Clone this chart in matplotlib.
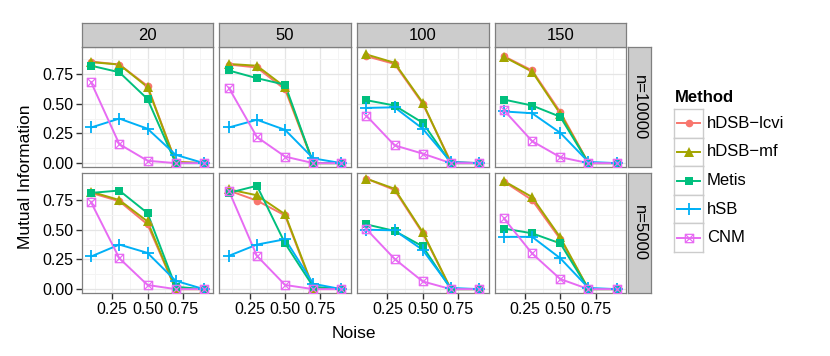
import matplotlib
matplotlib.use("Agg")
import matplotlib.pyplot as plt
from matplotlib.path import Path
import numpy as np

plt.rcParams['font.family'] = ['Liberation Sans', 'DejaVu Sans']

noise = [0.1, 0.3, 0.5, 0.7, 0.9]
ks = ['20', '50', '100', '150']
rows = ['n=10000', 'n=5000']
methods = ['hDSB\u2212lcvi', 'hDSB\u2212mf', 'Metis', 'hSB', 'CNM']

# one list per panel (k = 20, 50, 100, 150), values at each noise level
hdsb_lcvi_10000 = [[0.855, 0.83, 0.65, 0.01, 0.0], [0.83, 0.805, 0.62, 0.0, 0.0],
                   [0.90, 0.835, 0.50, 0.01, 0.0], [0.90, 0.78, 0.43, 0.0, 0.0]]
hdsb_mf_10000 = [[0.85, 0.83, 0.64, 0.01, 0.0], [0.835, 0.82, 0.64, 0.0, 0.0],
                 [0.915, 0.845, 0.51, 0.0, 0.0], [0.895, 0.77, 0.415, 0.0, 0.0]]
metis_10000 = [[0.82, 0.765, 0.54, 0.0, 0.0], [0.78, 0.715, 0.66, 0.0, 0.0],
               [0.53, 0.485, 0.34, 0.0, 0.0], [0.535, 0.485, 0.39, 0.0, 0.0]]
hsb_10000 = [[0.30, 0.375, 0.29, 0.07, 0.0], [0.30, 0.365, 0.28, 0.04, 0.0],
             [0.465, 0.47, 0.29, 0.01, 0.0], [0.435, 0.42, 0.255, 0.01, 0.0]]
cnm_10000 = [[0.68, 0.16, 0.02, 0.0, 0.0], [0.635, 0.22, 0.055, 0.0, 0.0],
             [0.40, 0.15, 0.08, 0.0, 0.0], [0.445, 0.185, 0.05, 0.0, 0.0]]

hdsb_lcvi_5000 = [[0.81, 0.74, 0.545, 0.0, 0.0], [0.83, 0.745, 0.62, 0.0, 0.0],
                  [0.93, 0.835, 0.47, 0.0, 0.0], [0.905, 0.75, 0.42, 0.0, 0.0]]
hdsb_mf_5000 = [[0.82, 0.75, 0.57, 0.0, 0.0], [0.84, 0.79, 0.63, 0.01, 0.0],
                [0.93, 0.845, 0.48, 0.0, 0.0], [0.91, 0.775, 0.435, 0.0, 0.0]]
metis_5000 = [[0.81, 0.83, 0.64, 0.02, 0.0], [0.81, 0.87, 0.385, 0.02, 0.0],
              [0.545, 0.49, 0.36, 0.0, 0.0], [0.51, 0.47, 0.385, 0.0, 0.0]]
hsb_5000 = [[0.275, 0.375, 0.305, 0.07, 0.0], [0.28, 0.375, 0.42, 0.045, 0.0],
            [0.50, 0.495, 0.33, 0.01, 0.0], [0.44, 0.44, 0.26, 0.01, 0.0]]
cnm_5000 = [[0.73, 0.26, 0.035, 0.0, 0.0], [0.83, 0.28, 0.035, 0.0, 0.0],
            [0.505, 0.255, 0.065, 0.0, 0.0], [0.595, 0.30, 0.085, 0.0, 0.0]]

data = {
    'n=10000': [hdsb_lcvi_10000, hdsb_mf_10000, metis_10000, hsb_10000, cnm_10000],
    'n=5000': [hdsb_lcvi_5000, hdsb_mf_5000, metis_5000, hsb_5000, cnm_5000],
}

colors = ['#F8766D', '#A3A500', '#00BF7D', '#00B0F6', '#E76BF3']

# square with a cross inside (ggplot shape 7)
sq_x = Path([(-1, -1), (1, -1), (1, 1), (-1, 1), (-1, -1), (-1, -1), (1, 1), (-1, 1), (1, -1)],
            [Path.MOVETO, Path.LINETO, Path.LINETO, Path.LINETO, Path.CLOSEPOLY,
             Path.MOVETO, Path.LINETO, Path.MOVETO, Path.LINETO])
mstyle = [dict(marker='o', ms=5.5, mew=0),
          dict(marker='^', ms=6.5, mew=0),
          dict(marker='s', ms=5.5, mew=0),
          dict(marker='+', ms=9, mew=1.3),
          dict(marker=sq_x, ms=6, mew=0.9, mfc='none')]

W, H = 830, 356
fig = plt.figure(figsize=(W / 100, H / 100), dpi=100)


def box(x0, y0, x1, y1):
    return [x0 / W, 1 - y1 / H, (x1 - x0) / W, (y1 - y0) / H]


col_x = [81.7 + 137.6 * i for i in range(4)]
pw = 131.6
row_y = [(47.3, 167.3), (173.3, 293.3)]
xlim = (0.033, 0.967)
ylim = (-0.035, 0.975)

for r, rname in enumerate(rows):
    for c, k in enumerate(ks):
        x0 = col_x[c]
        ax = fig.add_axes(box(x0, row_y[r][0], x0 + pw, row_y[r][1]))
        ax.set_xlim(*xlim)
        ax.set_ylim(*ylim)
        ax.set_xticks([0.25, 0.5, 0.75])
        ax.set_xticks([0.125, 0.375, 0.625, 0.875], minor=True)
        ax.set_yticks([0, 0.25, 0.5, 0.75])
        ax.set_yticks([0.125, 0.375, 0.625, 0.875], minor=True)
        ax.grid(which='major', color='#E5E5E5', lw=0.9)
        ax.grid(which='minor', color='#F4F4F4', lw=0.7)
        ax.set_axisbelow(True)
        for s in ax.spines.values():
            s.set_color('#7F7F7F')
            s.set_linewidth(0.9)
        ax.tick_params(which='minor', length=0)
        ax.tick_params(which='major', length=4, width=1.0, color='#333333',
                       labelsize=11.5, pad=2, labelcolor='black')
        if c > 0:
            ax.tick_params(axis='y', left=False, labelleft=False)
        else:
            ax.set_yticklabels(['0.00', '0.25', '0.50', '0.75'])
        if r == 0:
            ax.tick_params(axis='x', bottom=False, labelbottom=False)
        else:
            ax.set_xticklabels(['0.25', '0.50', '0.75'])

        series = data[rname]
        for m in range(len(methods)):
            ax.plot(noise, series[m][c], color=colors[m], lw=1.4, zorder=2)
        for m in range(len(methods)):
            st = dict(mstyle[m])
            ax.plot(noise, series[m][c], ls='none', color=colors[m],
                    mec=colors[m], zorder=3, **st)

        # top strips
        if r == 0:
            sa = fig.add_axes(box(x0, 23.3, x0 + pw, 47.3))
            sa.set_facecolor('#CCCCCC')
            sa.set_xticks([])
            sa.set_yticks([])
            for s in sa.spines.values():
                s.set_color('#7F7F7F')
                s.set_linewidth(0.9)
            sa.text(0.5, 0.5, k, ha='center', va='center', fontsize=12,
                    transform=sa.transAxes)

    # right strips
    sa = fig.add_axes(box(627.5, row_y[r][0], 650.5, row_y[r][1]))
    sa.set_facecolor('#CCCCCC')
    sa.set_xticks([])
    sa.set_yticks([])
    for s in sa.spines.values():
        s.set_color('#7F7F7F')
        s.set_linewidth(0.9)
    sa.text(0.5, 0.5, rname, ha='center', va='center', fontsize=12,
            rotation=-90, transform=sa.transAxes)

fig.text(25 / W, 1 - 177 / H, 'Mutual Information', rotation=90, ha='center',
         va='center', fontsize=12.5)
fig.text(354 / W, 1 - 333 / H, 'Noise', ha='center', va='center', fontsize=12.5)

# legend
fig.text(675 / W, 1 - 97 / H, 'Method', ha='left', va='center', fontsize=12,
         fontweight='bold')
key_top = 109
key_h = 28.6
for m, name in enumerate(methods):
    y0 = key_top + m * key_h
    ka = fig.add_axes(box(674.3, y0, 702.7, y0 + key_h))
    ka.set_xlim(0, 1)
    ka.set_ylim(0, 1)
    ka.set_xticks([])
    ka.set_yticks([])
    for s in ka.spines.values():
        s.set_color('#CCCCCC')
        s.set_linewidth(1.0)
    ka.plot([0.1, 0.9], [0.5, 0.5], color=colors[m], lw=1.4)
    st = dict(mstyle[m])
    ka.plot([0.5], [0.5], ls='none', color=colors[m], mec=colors[m], **st)
    fig.text(707 / W, 1 - (y0 + key_h / 2) / H, name, ha='left', va='center',
             fontsize=12)

fig.savefig('out.png', dpi=100)
